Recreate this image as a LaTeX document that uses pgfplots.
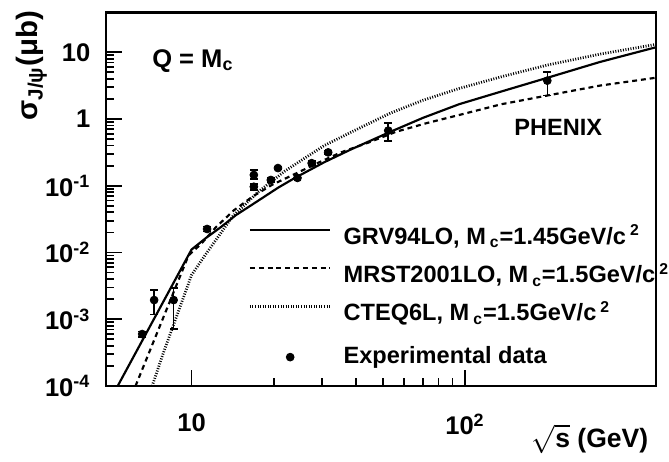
\documentclass[border=0pt]{standalone}
\usepackage{fontspec}
\setmainfont{Liberation Sans}
\usepackage{pgfplots}
\pgfplotsset{compat=1.18}

\pgfplotsset{
  linelegend/.style={legend image code/.code={\draw[##1] (0pt,4.2pt) -- (41pt,4.2pt);}},
  dotlegend/.style={legend image code/.code={\path[draw=none] (0pt,8.4pt) -- (41pt,0pt);
    \path[##1] plot coordinates {(20.5pt,0pt)};}},
}

% experimental points: x, y, upper and lower error
\pgfplotstableread{
x     y        ep       em
6.6   6.0e-4   0.6e-4   0.6e-4
7.3   1.94e-3  0.82e-3  0.77e-3
8.6   1.94e-3  1.01e-3  1.23e-3
11.4  0.0225   0.002    0.002
16.9  0.145    0.027    0.02
16.9  0.0966   0.01     0.01
19.5  0.122    0.008    0.008
20.7  0.184    0.01     0.01
24.4  0.131    0.01     0.01
27.5  0.218    0.015    0.015
31.6  0.316    0.02     0.02
52.4  0.67     0.2      0.2
200   3.75     1.35     1.5
}\expdata

\begin{document}
\begin{tikzpicture}
\begin{axis}[
  scale only axis, width=280pt, height=190pt,
  xmode=log, ymode=log,
  xmin=4.87, xmax=500, ymin=1e-4, ymax=39,
  axis line style={line width=1.3pt},
  tick pos=left, tick align=inside,
  major tick length=8pt, minor tick length=4pt,
  every tick/.style={line width=0.9pt, black},
  xtick={10,100},
  ytick={1e-4,1e-3,1e-2,1e-1,1,10},
  xticklabels={10, 10\textsuperscript{2}},
  yticklabels={10\textsuperscript{-4}, 10\textsuperscript{-3}, 10\textsuperscript{-2}, 10\textsuperscript{-1}, 1, 10},
  tick label style={font=\bfseries\fontsize{13}{15}\selectfont},
  xticklabel style={yshift=-10.5pt},
  yticklabel style={xshift=-4.5pt},
  legend cell align=left,
  legend style={draw=none, fill=none, inner sep=0pt, outer sep=0pt,
    at={(rel axis cs:0.259,0.4295)}, anchor=north west,
    font=\bfseries\fontsize{12}{14}\selectfont, row sep=7pt,
    nodes={inner sep=0pt, text height=9.5pt, text depth=3pt},
    /tikz/every odd column/.append style={column sep=6pt}},
]
\addplot[black, line width=1.1pt, linelegend] coordinates {
  (5.37,1e-4) (10,0.01107) (11.32,0.01663) (12.82,0.0241) (14.52,0.0362)
  (17.14,0.0562) (20.73,0.0935) (23.88,0.131) (27.48,0.178) (30.6,0.2254)
  (38.3,0.350) (52.4,0.622) (70.0,1.035) (95.1,1.663) (135.8,2.58)
  (200.5,4.15) (311,7.13) (499,11.86)};
\addlegendentry{GRV94LO, M\,\textsubscript{c}=1.45GeV/c\,\textsuperscript{2}}
\addplot[black, line width=1.1pt, dash pattern=on 2.5pt off 2pt, linelegend] coordinates {
  (6.24,1e-4) (9.75,0.00904) (10.86,0.01355) (12.30,0.0241) (14.29,0.0429)
  (16.72,0.0689) (19.72,0.1035) (23.88,0.150) (28.86,0.218) (35.2,0.316)
  (44.4,0.444) (56.0,0.644) (72.9,0.873) (95.1,1.146) (135.8,1.663)
  (200.5,2.25) (311,3.16) (499,4.15)};
\addlegendentry{MRST2001LO, M\,\textsubscript{c}=1.5GeV/c\,\textsuperscript{2}}
\addplot[black, line width=1.4pt, dash pattern=on 0.5pt off 0.8pt, linelegend] coordinates {
  (7.18,1e-4) (7.87,3.05e-4) (8.69,9.35e-4) (10,4.59e-3) (11.32,9.66e-3)
  (14.16,0.035) (17.58,0.0817) (21.97,0.1665) (25.9,0.258) (30.6,0.401)
  (39.3,0.667) (53.4,1.225) (70.0,1.90) (95.1,2.86) (135.8,4.29)
  (200.5,6.44) (311,9.35) (499,13.1)};
\addlegendentry{CTEQ6L, M\,\textsubscript{c}=1.5GeV/c\,\textsuperscript{2}}
\addplot[black, only marks, mark=*, mark size=2pt, dotlegend,
  error bars/.cd, y dir=both, y explicit,
  error bar style={line width=0.8pt},
  error mark options={rotate=90, mark size=2pt, line width=0.8pt}]
  table[x=x, y=y, y error plus=ep, y error minus=em] {\expdata};
\addlegendentry{Experimental data}

\node[anchor=west, font=\bfseries\fontsize{13}{15}\selectfont] at (rel axis cs:0.0714,0.871) {Q = M\textsubscript{c}};
\node[font=\bfseries\fontsize{12}{14}\selectfont] at (rel axis cs:0.822,0.692) {PHENIX};
\coordinate (bl) at (rel axis cs:0,0);
\coordinate (br) at (rel axis cs:1,0);
\coordinate (tr) at (rel axis cs:1,1);
\coordinate (yl) at (rel axis cs:0,0.858);
\end{axis}
\node[rotate=90, font=\bfseries\fontsize{15}{17}\selectfont] at ([xshift=-38pt]yl) {σ\textsubscript{J/ψ}(μb)};
\node[anchor=east, font=\bfseries\fontsize{13.5}{16}\selectfont] at ([xshift=-0.5pt,yshift=-27pt]br) {$\sqrt{\textbf{s}}$ (GeV)};
\path ([xshift=-54pt,yshift=-38.5pt]bl) rectangle ([xshift=0.5pt,yshift=6.5pt]tr);
\end{tikzpicture}
\end{document}
